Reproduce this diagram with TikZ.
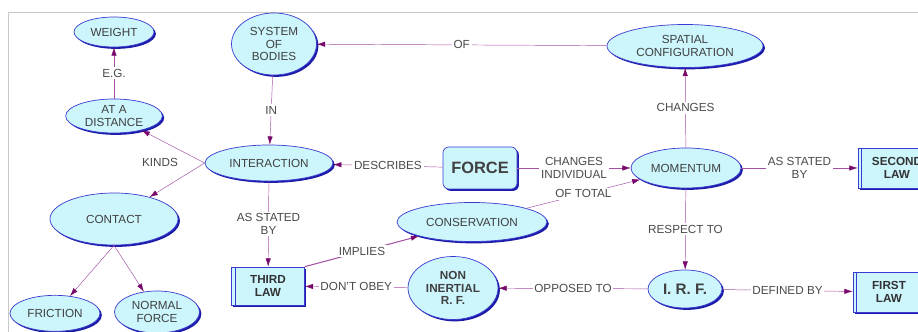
\documentclass[tikz,border=0pt]{standalone}
\usepackage{fontspec}
\setmainfont{Liberation Sans}
\usetikzlibrary{shapes.geometric,arrows.meta,shadows}

\definecolor{conceptfill}{HTML}{CCF5FC}
\definecolor{conceptline}{HTML}{3A3AD0}
\definecolor{conceptshade}{HTML}{1C1CA8}
\definecolor{linkline}{HTML}{A450A4}
\definecolor{linktip}{HTML}{78086C}
\definecolor{linktext}{HTML}{4A4A4A}
\definecolor{framegray}{HTML}{C8C8C8}

\tikzset{
  concept/.style={ellipse, draw=conceptline, fill=conceptfill, semithick, inner sep=0pt,
    align=center, text=black!75, font=\fontsize{10}{11}\selectfont,
    drop shadow={shadow xshift=1.6pt, shadow yshift=-1.6pt, fill=conceptshade, opacity=1}},
  law/.style={rectangle, draw=conceptline, fill=conceptfill, semithick, inner sep=0pt,
    align=center, text=black!80, font=\fontsize{10}{11}\selectfont\bfseries,
    drop shadow={shadow xshift=1.6pt, shadow yshift=-1.6pt, fill=conceptshade, opacity=1},
    path picture={\draw[conceptline]
      ([xshift=3pt]path picture bounding box.north west) --
      ([xshift=3pt]path picture bounding box.south west);}},
  link/.style={draw=linkline, -{Latex[length=7pt,width=4.5pt,color=linktip]}},
  linklabel/.style={fill=white, inner sep=1.5pt, text=linktext, align=center,
    font=\fontsize{10}{11}\selectfont},
}

\begin{document}
\begin{tikzpicture}
\useasboundingbox (0,0) rectangle (27.54,9.96);
\draw[framegray, line width=0.8pt] (0.25,0) -- (0.25,9.6) -- (27.54,9.6);

% concepts
\node[concept, minimum width=2.4cm, minimum height=0.9cm] (weight) at (3.42,9.0) {WEIGHT};
\node[concept, minimum width=2.55cm, minimum height=1.86cm] (system) at (8.22,8.64) {SYSTEM\\OF\\BODIES};
\node[concept, minimum width=2.9cm, minimum height=1.02cm] (distance) at (3.42,6.48) {AT A\\DISTANCE};
\node[concept, minimum width=4.68cm, minimum height=1.29cm] (spatial) at (20.55,8.58) {SPATIAL\\CONFIGURATION};
\node[concept, minimum width=3.84cm, minimum height=1.08cm] (interaction) at (8.07,5.07) {INTERACTION};
\node[concept, rectangle, rounded corners=5pt, minimum width=2.22cm, minimum height=1.26cm,
  font=\fontsize{14}{15}\selectfont\bfseries] (force) at (14.4,4.92) {FORCE};
\node[concept, minimum width=3.3cm, minimum height=1.2cm] (momentum) at (20.58,4.92) {MOMENTUM};
\node[law, minimum width=2.34cm, minimum height=1.2cm] (second) at (26.91,4.92) {SECOND\\LAW};
\node[concept, minimum width=3.84cm, minimum height=1.56cm] (contact) at (3.42,3.39) {CONTACT};
\node[concept, minimum width=2.7cm, minimum height=1.08cm] (friction) at (1.65,0.56) {FRICTION};
\node[concept, minimum width=2.55cm, minimum height=1.26cm] (normal) at (4.71,0.6) {NORMAL\\FORCE};
\node[law, minimum width=2.19cm, minimum height=1.14cm] (third) at (8.04,1.38) {THIRD\\LAW};
\node[concept, minimum width=4.5cm, minimum height=1.17cm] (conservation) at (14.16,3.3) {CONSERVATION};
\node[concept, minimum width=2.7cm, minimum height=1.89cm,
  font=\fontsize{10}{11}\selectfont\bfseries] (noninertial) at (13.59,1.32) {NON\\INERTIAL\\R. F.};
\node[concept, minimum width=2.22cm, minimum height=1.14cm,
  font=\fontsize{13}{14}\selectfont\bfseries] (irf) at (20.55,1.29) {I. R. F.};
\node[law, minimum width=2.16cm, minimum height=1.2cm] (first) at (26.67,1.2) {FIRST\\LAW};

% links
\draw[link] (distance) -- node[linklabel] {E.G.} (weight);
\draw[link] (system) -- node[linklabel] {IN} (interaction);
\draw[link] (spatial) -- node[linklabel] {OF} (system);
\node[linklabel] (kinds) at (4.8,5.1) {KINDS};
\draw[link] (interaction.west) -- (distance);
\draw[link] (interaction.west) -- (contact);
\draw[link] (contact.south) -- (friction);
\draw[link] (contact.south) -- (normal);
\draw[link] (force) -- node[linklabel] {DESCRIBES} (interaction);
\draw[link] (force) -- node[linklabel] {CHANGES\\INDIVIDUAL} (momentum);
\draw[link] (conservation) -- node[linklabel] {OF TOTAL} (momentum);
\draw[link] (momentum) -- node[linklabel] {CHANGES} (spatial);
\draw[link] (momentum) -- node[linklabel] {AS STATED\\BY} (second);
\draw[link] (momentum) -- node[linklabel] {RESPECT TO} (irf);
\draw[link] (interaction) -- node[linklabel] {AS STATED\\BY} (third);
\draw[link, line width=0.9pt] (third.north east) -- node[linklabel] {IMPLIES} (conservation);
\draw[link] (noninertial) -- node[linklabel] {DON'T OBEY} (third);
\draw[link] (irf) -- node[linklabel] {OPPOSED TO} (noninertial);
\draw[link] (irf) -- node[linklabel] {DEFINED BY} (first);
\end{tikzpicture}
\end{document}
